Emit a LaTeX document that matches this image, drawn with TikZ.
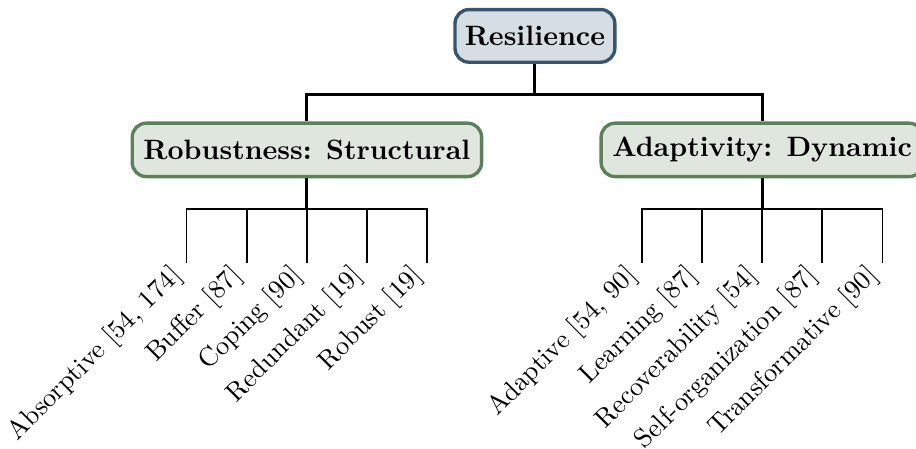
\documentclass[tikz,border=0pt]{standalone}
\usepackage{amsmath,amssymb}
\usepackage{tikz}
\usetikzlibrary{positioning}

\definecolor{resfill}{HTML}{D6DEE3}
\definecolor{resdraw}{HTML}{35566C}
\definecolor{catfill}{HTML}{DFE6DD}
\definecolor{catdraw}{HTML}{5C7F5C}

\begin{document}
\begin{tikzpicture}[
root/.style={rectangle, rounded corners=5pt, draw=resdraw, fill=resfill, line width=1.2pt, font=\bfseries, minimum height=0.66cm, inner xsep=3.5pt},
cat/.style={rectangle, rounded corners=5pt, draw=catdraw, fill=catfill, line width=1.2pt, font=\bfseries, minimum height=0.67cm, inner xsep=4pt},
leaf/.style={rotate=45, anchor=east, inner xsep=4.3pt, inner ysep=1pt, font=\fontsize{9.5pt}{11pt}\selectfont},
link/.style={line width=1.1pt},
sublink/.style={line width=0.6pt},
]
\useasboundingbox (-6.71,0.45) rectangle (4.78,-5.17);

\node[root] (res) at (0,0) {Resilience};
\node[cat] (rob) at (-2.86,-1.43) {Robustness: Structural};
\node[cat] (ada) at (2.85,-1.43) {Adaptivity: Dynamic};

\node[leaf] (r1) at (-4.37,-2.85) {Absorptive [54, 174]};
\node[leaf] (r2) at (-3.615,-2.85) {Buffer [87]};
\node[leaf] (r3) at (-2.86,-2.85) {Coping [90]};
\node[leaf] (r4) at (-2.105,-2.85) {Redundant [19]};
\node[leaf] (r5) at (-1.35,-2.85) {Robust [19]};

\node[leaf] (a1) at (1.34,-2.85) {Adaptive [54, 90]};
\node[leaf] (a2) at (2.095,-2.85) {Learning [87]};
\node[leaf] (a3) at (2.85,-2.85) {Recoverability [54]};
\node[leaf] (a4) at (3.605,-2.85) {Self-organization [87]};
\node[leaf] (a5) at (4.36,-2.85) {Transformative [90]};

\draw[link] (res.south) -- ++(0,-0.385) -| (rob.north);
\draw[link] (res.south) -- ++(0,-0.385) -| (ada.north);

\draw[link] (rob.south) -- ++(0,-0.385);
\draw[link] (ada.south) -- ++(0,-0.385);

\path[sublink]
(rob.south) edge[to path={-- ++(0,-0.385) -| (\tikztotarget)}] (r1.east)
(rob.south) edge[to path={-- ++(0,-0.385) -| (\tikztotarget)}] (r2.east)
(rob.south) edge[to path={-- ++(0,-0.385) -| (\tikztotarget)}] (r3.east)
(rob.south) edge[to path={-- ++(0,-0.385) -| (\tikztotarget)}] (r4.east)
(rob.south) edge[to path={-- ++(0,-0.385) -| (\tikztotarget)}] (r5.east)
(ada.south) edge[to path={-- ++(0,-0.385) -| (\tikztotarget)}] (a1.east)
(ada.south) edge[to path={-- ++(0,-0.385) -| (\tikztotarget)}] (a2.east)
(ada.south) edge[to path={-- ++(0,-0.385) -| (\tikztotarget)}] (a3.east)
(ada.south) edge[to path={-- ++(0,-0.385) -| (\tikztotarget)}] (a4.east)
(ada.south) edge[to path={-- ++(0,-0.385) -| (\tikztotarget)}] (a5.east)
;
\end{tikzpicture}
\end{document}
